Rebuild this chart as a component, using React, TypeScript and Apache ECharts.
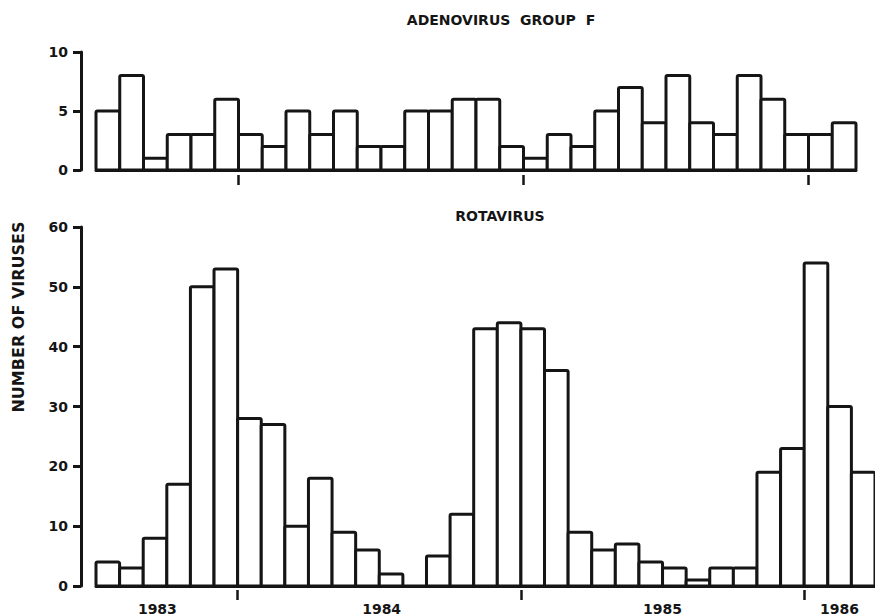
import React, { useEffect, useRef } from "react";
import * as echarts from "echarts";

// Monthly counts
const adenoValues = [5, 8, 1, 3, 3, 6, 3, 2, 5, 3, 5, 2, 2, 5, 5, 6, 6, 2, 1, 3, 2, 5, 7, 4, 8, 4, 3, 8, 6, 3, 3, 4];
const rotaValues = [4, 3, 8, 17, 50, 53, 28, 27, 10, 18, 9, 6, 2, 0, 5, 12, 43, 44, 43, 36, 9, 6, 7, 4, 3, 1, 3, 3, 19, 23, 54, 30, 19];
const adenoMonths = adenoValues.map((_, i) => `M${i + 1}`);
const rotaMonths = rotaValues.map((_, i) => `M${i + 1}`);

// Year tick marks (in month units from the start) and year labels
const yearTickPositions = [6, 18, 30];
const yearLabels = ["1983", "1984", "1985", "1986"];
const yearLabelPositions = [2.6, 12.1, 24, 31.5];

const adenoTitle = "ADENOVIRUS  GROUP  F";
const rotaTitle = "ROTAVIRUS";
const yTitle = "NUMBER OF VIRUSES";

const INK = "#151515";
const FONT = '"DejaVu Sans", "Liberation Sans", sans-serif';

const TOP_GRID = { left: 96, top: 52, width: 760, height: 118 };
const BOTTOM_GRID = { left: 96, top: 227, width: 783.75, height: 359 };

export default function App() {
  const ref = useRef<HTMLDivElement>(null);

  useEffect(() => {
    if (!ref.current) return;
    const chart = echarts.init(ref.current, null, { renderer: "svg" });

    const renderBar = (_params: any, api: any) => {
      const i = api.value(0);
      const v = api.value(1);
      const top = api.coord([i, v]);
      const base = api.coord([i, 0]);
      const w = api.size([1, 0])[0];
      return {
        type: "rect",
        shape: { x: top[0] - w / 2, y: top[1], width: w, height: base[1] - top[1], r: 1.5 },
        style: { fill: "#ffffff", stroke: INK, lineWidth: 3 },
      };
    };

    const yAxisCommon = {
      type: "value" as const,
      offset: 15,
      axisLine: { show: true, onZero: false, lineStyle: { color: INK, width: 3 } },
      axisTick: { show: true, length: 8, lineStyle: { color: INK, width: 3 } },
      splitLine: { show: false },
      axisLabel: { margin: 13, color: INK, fontFamily: FONT, fontWeight: "bold" as const, fontSize: 14 },
    };
    const catAxisCommon = {
      type: "category" as const,
      boundaryGap: true,
      axisLine: { show: true, onZero: false, lineStyle: { color: INK, width: 3 } },
      axisTick: { show: false },
      axisLabel: { show: false },
    };
    const tickAxisCommon = {
      type: "value" as const,
      position: "bottom" as const,
      offset: 5,
      axisLine: { show: false, onZero: false },
      splitLine: { show: false },
      axisTick: {
        show: true,
        customValues: yearTickPositions,
        length: 10,
        lineStyle: { color: INK, width: 2.5 },
      },
    };

    chart.setOption({
      animation: false,
      backgroundColor: "#ffffff",
      grid: [TOP_GRID, BOTTOM_GRID, TOP_GRID, BOTTOM_GRID],
      xAxis: [
        { ...catAxisCommon, gridIndex: 0, data: adenoMonths },
        { ...catAxisCommon, gridIndex: 1, data: rotaMonths },
        { ...tickAxisCommon, gridIndex: 2, min: 0, max: adenoValues.length, axisLabel: { show: false } },
        {
          ...tickAxisCommon,
          gridIndex: 3,
          min: 0,
          max: rotaValues.length,
          axisLabel: {
            show: true,
            customValues: yearLabelPositions,
            margin: 12,
            color: INK,
            fontFamily: FONT,
            fontWeight: "bold",
            fontSize: 14,
            formatter: (v: number) => {
              const i = yearLabelPositions.findIndex((p) => Math.abs(p - v) < 1e-6);
              return i >= 0 ? yearLabels[i] : "";
            },
          },
        },
      ],
      yAxis: [
        { ...yAxisCommon, gridIndex: 0, min: 0, max: 10, interval: 5 },
        { ...yAxisCommon, gridIndex: 1, min: 0, max: 60, interval: 10 },
        { type: "value", gridIndex: 2, show: false, min: 0, max: 10 },
        { type: "value", gridIndex: 3, show: false, min: 0, max: 60 },
      ],
      series: [
        {
          type: "custom",
          xAxisIndex: 0,
          yAxisIndex: 0,
          data: adenoValues.map((v, i) => [i, v]),
          encode: { x: 0, y: 1 },
          renderItem: renderBar,
        },
        {
          type: "custom",
          xAxisIndex: 1,
          yAxisIndex: 1,
          data: rotaValues.map((v, i) => [i, v]),
          encode: { x: 0, y: 1 },
          renderItem: renderBar,
        },
      ],
      graphic: [
        {
          type: "text",
          x: 501,
          y: 20,
          style: {
            text: adenoTitle,
            font: `bold 14px ${FONT}`,
            fill: INK,
            textAlign: "center",
            textVerticalAlign: "middle",
          },
        },
        {
          type: "text",
          x: 500,
          y: 216,
          style: {
            text: rotaTitle,
            font: `bold 14px ${FONT}`,
            fill: INK,
            textAlign: "center",
            textVerticalAlign: "middle",
          },
        },
        {
          type: "text",
          x: 18,
          y: 317,
          rotation: Math.PI / 2,
          style: {
            text: yTitle,
            font: `bold 16px ${FONT}`,
            fill: INK,
            textAlign: "center",
            textVerticalAlign: "middle",
          },
        },
      ],
    });

    return () => chart.dispose();
  }, []);

  return (
    <div
      ref={ref}
      style={{ position: "absolute", left: 0, top: 0, width: 875, height: 616, background: "#fff" }}
    />
  );
}
